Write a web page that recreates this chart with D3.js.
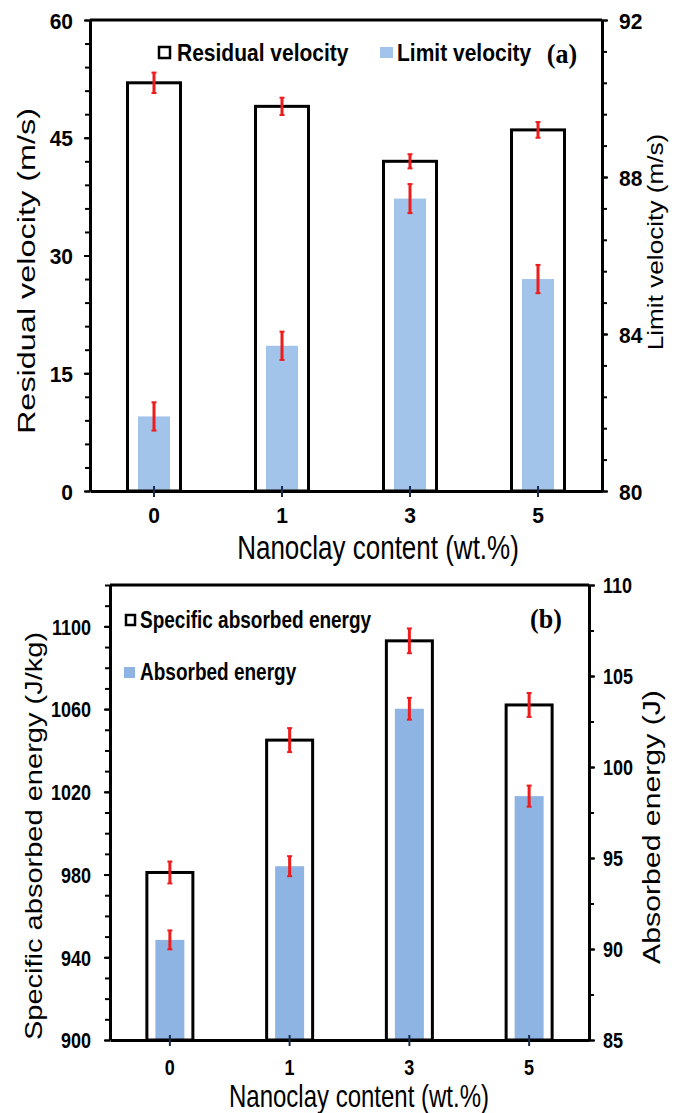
<!DOCTYPE html>
<html>
<head>
<meta charset="utf-8">
<script src="https://cdn.jsdelivr.net/npm/d3@7/dist/d3.min.js"></script>
<style>
  body { margin: 0; background: #fff; }
  svg { display: block; }
</style>
</head>
<body>
<svg id="chart" width="688" height="1113"></svg>
<script>
// values
var categories = ['0', '1', '3', '5'];

var residualVelocity = [52, 49, 42, 46];
var residualErr = [1.3, 1.1, 0.9, 1.0];
var limitVelocity = [81.9, 83.7, 87.45, 85.4];
var limitErr = [0.36, 0.36, 0.37, 0.36];

var specificEnergy = [981, 1045, 1093, 1062];
var specificErr = [5.3, 5.8, 6.0, 5.8];
var absorbedEnergy = [90.5, 94.55, 103.2, 98.4];
var absorbedErr = [0.52, 0.55, 0.6, 0.58];

var ticksA_left = [0, 15, 30, 45, 60];
var ticksA_right = [80, 84, 88, 92];
var ticksB_left = [900, 940, 980, 1020, 1060, 1100];
var ticksB_right = [85, 90, 95, 100, 105, 110];

var SANS = '"Liberation Sans", Arial, sans-serif';
var SERIF = '"Liberation Serif", "Times New Roman", serif';
var svg = d3.select('#chart');

// text stretched vertically, like the squashed original
function stretchText(g, txt, x, y, size, k, opts) {
  opts = opts || {};
  var t = g.append('text')
    .attr('transform', 'translate(' + x + ',' + y + ') scale(1,' + k + ')' + (opts.rotate ? ' rotate(-90)' : ''))
    .attr('font-family', opts.family || SANS)
    .attr('font-size', size)
    .attr('font-weight', opts.bold ? 'bold' : 'normal')
    .attr('text-anchor', opts.anchor || 'middle')
    .attr('fill', '#000')
    .text(txt);
  if (opts.dy) t.attr('dy', opts.dy);
  return t;
}

function drawPanel(p) {
  var g = svg.append('g');
  var x = d3.scaleBand().domain(categories).range([p.left, p.right]);
  var yL = d3.scaleLinear().domain(p.leftDomain).range([p.bottom, p.top]);
  var yR = d3.scaleLinear().domain(p.rightDomain).range([p.bottom, p.top]);
  var cx = function (i) { return x(categories[i]) + x.bandwidth() / 2; };
  var fmt = d3.format('d');

  // blue bars (secondary axis)
  g.selectAll('rect.inner').data(p.rightValues).join('rect')
    .attr('class', 'inner')
    .attr('x', function (d, i) { return cx(i) - p.innerW / 2; })
    .attr('y', function (d) { return yR(d); })
    .attr('width', p.innerW)
    .attr('height', function (d) { return p.bottom - yR(d); })
    .attr('fill', p.blue);

  // outlined bars (primary axis)
  g.selectAll('rect.outer').data(p.leftValues).join('rect')
    .attr('class', 'outer')
    .attr('x', function (d, i) { return cx(i) - p.outerW / 2; })
    .attr('y', function (d) { return yL(d); })
    .attr('width', p.outerW)
    .attr('height', function (d) { return p.bottom - yL(d); })
    .attr('fill', 'none')
    .attr('stroke', '#000')
    .attr('stroke-width', 3);

  // error bars
  function errBars(vals, errs, y) {
    var eg = g.append('g').attr('stroke', '#ee1c1c');
    vals.forEach(function (v, i) {
      var c = cx(i), y0 = y(v - errs[i]), y1 = y(v + errs[i]);
      eg.append('line').attr('x1', c).attr('x2', c).attr('y1', y0).attr('y2', y1).attr('stroke-width', 3);
      eg.append('line').attr('x1', c - 2.5).attr('x2', c + 2.5).attr('y1', y0).attr('y2', y0).attr('stroke-width', 2);
      eg.append('line').attr('x1', c - 2.5).attr('x2', c + 2.5).attr('y1', y1).attr('y2', y1).attr('stroke-width', 2);
    });
  }
  errBars(p.rightValues, p.rightErr, yR);
  errBars(p.leftValues, p.leftErr, yL);

  // minor ticks
  g.append('g').attr('transform', 'translate(' + p.left + ',0)')
    .call(d3.axisLeft(yL).tickValues(d3.range(p.leftDomain[0], p.leftDomain[1] + 1e-6, p.leftMinor)).tickSize(5).tickFormat('').tickSizeOuter(0))
    .call(function (a) { a.select('.domain').remove(); a.selectAll('line').attr('stroke-width', 2); });
  g.append('g').attr('transform', 'translate(' + p.right + ',0)')
    .call(d3.axisRight(yR).tickValues(d3.range(p.rightDomain[0], p.rightDomain[1] + 1e-6, p.rightMinor)).tickSize(5).tickFormat('').tickSizeOuter(0))
    .call(function (a) { a.select('.domain').remove(); a.selectAll('line').attr('stroke-width', 2); });

  // major axes
  var axL = g.append('g').attr('transform', 'translate(' + p.left + ',0)')
    .call(d3.axisLeft(yL).tickValues(p.leftTicks).tickFormat(fmt).tickSize(6).tickSizeOuter(0));
  var axR = g.append('g').attr('transform', 'translate(' + p.right + ',0)')
    .call(d3.axisRight(yR).tickValues(p.rightTicks).tickFormat(fmt).tickSize(6).tickSizeOuter(0));
  var axB = g.append('g').attr('transform', 'translate(0,' + p.bottom + ')')
    .call(d3.axisBottom(x).tickSize(6).tickSizeOuter(0));

  [axL, axR, axB].forEach(function (a) {
    a.select('.domain').attr('stroke-width', 3);
    a.selectAll('.tick line').attr('stroke-width', 2);
    a.selectAll('text')
      .attr('font-family', SANS).attr('font-weight', 'bold').attr('font-size', p.tickSize).attr('fill', '#000');
  });
  axB.selectAll('.tick line').attr('y1', -5).attr('stroke', '#1a2a4a');
  axL.selectAll('text').attr('x', -(p.left - p.leftLabelEnd)).attr('y', 0).attr('dy', '0.36em')
    .attr('transform', 'scale(1,' + p.tickK + ')');
  axR.selectAll('text').attr('x', p.rightLabelStart - p.right).attr('y', 0).attr('dy', '0.36em')
    .attr('transform', 'scale(1,' + p.tickK + ')');
  axB.selectAll('text').attr('y', 0).attr('dy', '0.36em')
    .attr('transform', 'translate(0,' + p.xLabelOffset + ') scale(1,' + p.tickK + ')');

  // top frame line
  g.append('line').attr('x1', p.left).attr('x2', p.right).attr('y1', p.top).attr('y2', p.top)
    .attr('stroke', '#000').attr('stroke-width', 3);

  // axis titles
  stretchText(g, p.leftTitle[0], p.leftTitle[1], p.leftTitle[2], p.leftTitle[3], p.leftTitle[4], { rotate: true });
  stretchText(g, p.rightTitle[0], p.rightTitle[1], p.rightTitle[2], p.rightTitle[3], p.rightTitle[4], { rotate: true });
  stretchText(g, 'Nanoclay content (wt.%)', p.xTitle[0], p.xTitle[1], p.xTitle[2], p.xTitle[3]);

  // legend
  p.legend.forEach(function (l) {
    if (l.outline) {
      g.append('rect').attr('x', l.sx).attr('y', l.sy).attr('width', l.sw).attr('height', l.sh)
        .attr('fill', 'none').attr('stroke', '#000').attr('stroke-width', 2.5);
    } else {
      g.append('rect').attr('x', l.sx).attr('y', l.sy).attr('width', l.sw).attr('height', l.sh).attr('fill', p.blue);
    }
    stretchText(g, l.text, l.tx, l.ty, p.legendSize, p.legendK, { bold: true, anchor: 'start', dy: '0.36em' });
  });
  stretchText(g, p.tag[0], p.tag[1], p.tag[2], 26, 1.05, { bold: true, family: SERIF, dy: '0.35em' });
}

drawPanel({
  left: 90, right: 602, top: 20, bottom: 491,
  leftDomain: [0, 60], rightDomain: [80, 92],
  leftMinor: 3, rightMinor: 0.8,
  leftTicks: ticksA_left, rightTicks: ticksA_right,
  leftValues: residualVelocity, leftErr: residualErr,
  rightValues: limitVelocity, rightErr: limitErr,
  outerW: 53, innerW: 32, blue: '#a2c3ea',
  tickSize: 21, tickK: 1.08, leftLabelEnd: 73, rightLabelStart: 619, xLabelOffset: 24,
  leftTitle: ['Residual velocity (m/s)', 35, 271, 23, 1.41],
  rightTitle: ['Limit velocity (m/s)', 663, 242, 22, 1.19],
  xTitle: [378, 559, 26, 1.27],
  legendSize: 21, legendK: 1.12,
  legend: [
    { outline: true, sx: 159, sy: 47, sw: 11, sh: 11, text: 'Residual velocity', tx: 177, ty: 53 },
    { outline: false, sx: 380, sy: 47, sw: 13, sh: 11, text: 'Limit velocity', tx: 397, ty: 53 }
  ],
  tag: ['(a)', 562, 53]
});

drawPanel({
  left: 110, right: 589, top: 585, bottom: 1040,
  leftDomain: [900, 1120], rightDomain: [85, 110],
  leftMinor: 10, rightMinor: 2.5,
  leftTicks: ticksB_left, rightTicks: ticksB_right,
  leftValues: specificEnergy, leftErr: specificErr,
  rightValues: absorbedEnergy, rightErr: absorbedErr,
  outerW: 46, innerW: 29, blue: '#8db4e3',
  tickSize: 18, tickK: 1.2, leftLabelEnd: 91, rightLabelStart: 603, xLabelOffset: 27,
  leftTitle: ['Specific absorbed energy (J/kg)', 42, 836, 24, 1.21],
  rightTitle: ['Absorbed energy (J)', 660, 827, 24, 1.26],
  xTitle: [359, 1107, 24, 1.3],
  legendSize: 19, legendK: 1.22,
  legend: [
    { outline: true, sx: 126, sy: 615, sw: 9, sh: 10, text: 'Specific absorbed energy', tx: 140, ty: 620 },
    { outline: false, sx: 124, sy: 667, sw: 11, sh: 11, text: 'Absorbed energy', tx: 140, ty: 672 }
  ],
  tag: ['(b)', 546, 618]
});
</script>
</body>
</html>
